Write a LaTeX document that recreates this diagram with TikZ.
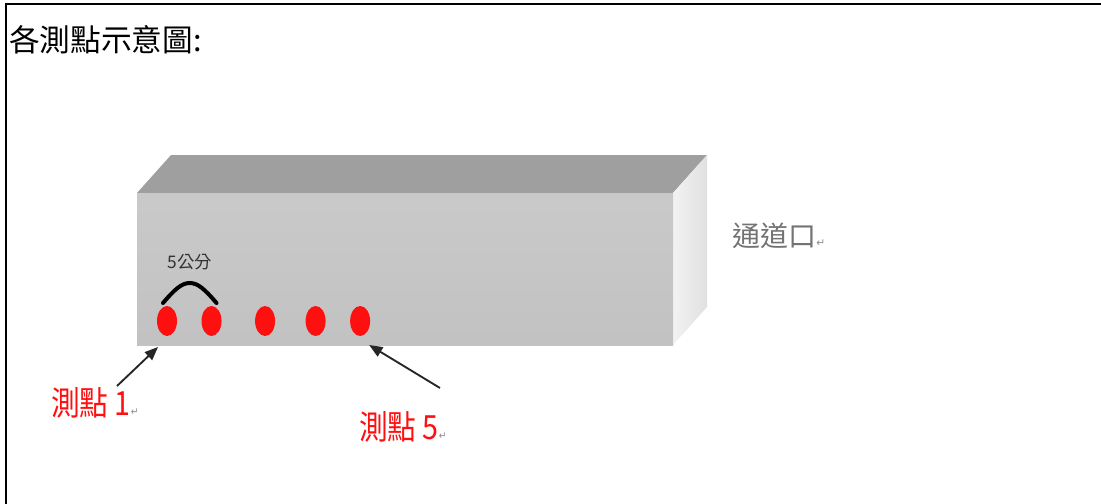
\documentclass[tikz,border=0pt]{standalone}
\usepackage{fontspec}
\newfontfamily\cjk{Noto Sans CJK TC}
\newfontfamily\dejavu{DejaVu Sans}
\usetikzlibrary{shapes.geometric,positioning,arrows.meta,calc}
\definecolor{pointred}{HTML}{FF1010}
\definecolor{topgray}{HTML}{9F9F9F}
\newcommand{\enterglyph}{{\dejavu\color{black!45}\fontsize{8}{8}\selectfont ↵}}

\begin{document}
\begin{tikzpicture}[
    x=0.75pt, y=-0.75pt,
    dot/.style={
        ellipse,
        fill=pointred,
        minimum width=15pt,
        minimum height=22.5pt,
        inner sep=0,
    },
    redlabel/.style={
        anchor=west, inner sep=0,
        xscale=0.86, transform shape,
        text=pointred,
        font=\cjk\fontsize{25}{25}\selectfont,
    },
    pointer/.style={-{Triangle[length=10pt,width=8pt]}, line width=1.4pt, black!85},
    brace/.style={line width=3pt, line cap=round, black}
    ]
    \useasboundingbox (0,0) rectangle (1101,504);
    \draw[line width=1.6pt] (6,504) -- (6,4) -- (1101,4);
    \node[anchor=west, inner sep=0, font=\cjk\fontsize{23}{23}\selectfont] (title) at (9,40) {各測點示意圖:};

    % box: top, right side, front
    \fill[topgray] (137,193) -- ++(34,-38) -- (707,155) -- (673,193) -- cycle;
    \shade[left color=black!5, right color=black!12] (673,193) -- (707,155) -- (707,307) -- (673,345) -- cycle;
    \shade[top color=black!21, bottom color=black!24] (137,193) rectangle (673,345);
    \node[anchor=west, inner sep=0, text=black!55, font=\cjk\fontsize{21}{21}\selectfont] (exit) at (732,236) {通道口\enterglyph};

    % measuring points
    \node[dot] (p1) at (167,321) {};
    \node[dot, right=18pt of p1] (p2) {};
    \node[dot, right=24.75pt of p2] (p3) {};
    \node[dot, right=22.5pt of p3] (p4) {};
    \node[dot, right=18pt of p4] (p5) {};

    \coordinate (a1) at ([shift={(-4,-18)}]p1);
    \coordinate (a2) at ([shift={(5,-18)}]p2);
    \coordinate (apex) at ($(a1)!0.5!(a2)+(0,-20)$);
    \draw[brace] (a1) .. controls +(12,-14) and +(-8,0) .. (apex) .. controls +(8,0) and +(-12,-14) .. (a2);
    \node[inner sep=0, text=black!80, font=\cjk\fontsize{13}{13}\selectfont] (gap) at ($(apex)+(0,-21)$) {5公分};

    \node[redlabel] (m1) at (51,403) {測點 1\enterglyph};
    \node[redlabel] (m5) at (359,427) {測點 5\enterglyph};
    \coordinate (t1) at (117,386);
    \coordinate (t5) at (440,388);
    \coordinate (h1) at ([shift={(-9,26)}]p1);
    \coordinate (h5) at ([shift={(9,24)}]p5);
    \draw[pointer] (t1) -- (h1);
    \draw[pointer] (t5) -- (h5);
\end{tikzpicture}
\end{document}
